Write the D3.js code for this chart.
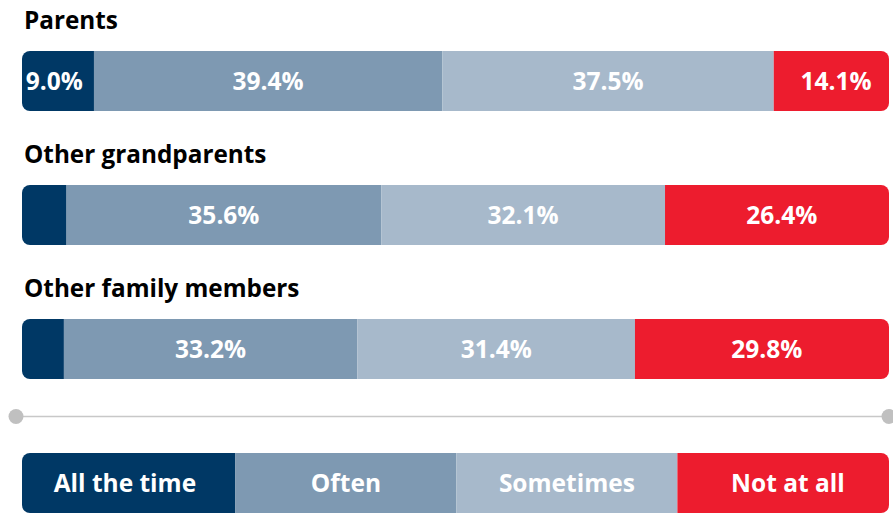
<!DOCTYPE html>
<html>
<head>
<meta charset="utf-8">
<script src="https://cdn.jsdelivr.net/npm/d3@7"></script>
<style>
  html, body { margin: 0; padding: 0; background: #ffffff; }
  svg { display: block; }
  text { font-family: "Open Sans", Lato, sans-serif; font-weight: bold; }
</style>
</head>
<body>
<svg id="chart" width="893" height="514"></svg>
<script>
// ---- data ----
const categories = ["Parents", "Other grandparents", "Other family members"];
const seriesNames = ["All the time", "Often", "Sometimes", "Not at all"];
const allTheTime = [9.0, 5.9, 5.6];
const often = [39.4, 35.6, 33.2];
const sometimes = [37.5, 32.1, 31.4];
const notAtAll = [14.1, 26.4, 29.8];
const legendShares = [25, 25, 25, 25];
const colors = ["#003865", "#7e99b2", "#a7b9cb", "#ed1c2e"];

// ---- build rows ----
const seriesArrays = [allTheTime, often, sometimes, notAtAll];
const rows = categories.map((c, i) => {
  const r = { category: c };
  seriesNames.forEach((s, k) => r[s] = seriesArrays[k][i]);
  return r;
});
const legendRow = { category: "legend" };
seriesNames.forEach((s, k) => legendRow[s] = legendShares[k]);

const stack = d3.stack().keys(seriesNames);
const stacked = stack(rows);
const legendStacked = stack([legendRow]);

const svg = d3.select("#chart");

const clipLeft = 22, clipRight = 889;
const x = d3.scaleLinear().domain([0, 100]).range([14.4, 898.4]);
const y = d3.scaleBand().domain(categories).range([51, 379]).paddingInner(74 / 134).paddingOuter(0);
const color = d3.scaleOrdinal().domain(seriesNames).range(colors);
const radius = 8;

const defs = svg.append("defs");
function clipFor(id, top, h) {
  defs.append("clipPath").attr("id", id)
    .append("rect")
    .attr("x", clipLeft).attr("y", top)
    .attr("width", clipRight - clipLeft).attr("height", h)
    .attr("rx", radius).attr("ry", radius);
}

// ---- bars ----
categories.forEach((c, i) => {
  const top = y(c);
  const id = "clip" + i;
  clipFor(id, top, y.bandwidth());

  // title
  svg.append("text")
    .attr("x", 24)
    .attr("y", top - 22)
    .attr("font-size", 24.3)
    .attr("fill", "#000")
    .text(c);

  const g = svg.append("g").attr("clip-path", `url(#${id})`);
  stacked.forEach(layer => {
    const d = layer[i];
    g.append("rect")
      .attr("x", x(d[0]))
      .attr("y", top)
      .attr("width", x(d[1]) - x(d[0]))
      .attr("height", y.bandwidth())
      .attr("fill", color(layer.key));
  });
  stacked.forEach(layer => {
    const d = layer[i];
    const v = d[1] - d[0];
    if (v < 8) return;
    svg.append("text")
      .attr("x", (x(d[0]) + x(d[1])) / 2)
      .attr("y", top + y.bandwidth() / 2)
      .attr("dy", "0.36em")
      .attr("text-anchor", "middle")
      .attr("font-size", 24.5)
      .attr("fill", "#ffffff")
      .text(v.toFixed(1) + "%");
  });
});

// ---- divider line ----
const lineY = 416.5;
svg.append("line")
  .attr("x1", 16).attr("x2", 889)
  .attr("y1", lineY).attr("y2", lineY)
  .attr("stroke", "#c8c8c8").attr("stroke-width", 1.5);
[16, 889].forEach(cx => {
  svg.append("circle").attr("cx", cx).attr("cy", lineY).attr("r", 7.5).attr("fill", "#c0c0c0");
});

// ---- legend ----
const legTop = 453, legH = 60;
clipFor("clipLegend", legTop, legH);
const lg = svg.append("g").attr("clip-path", "url(#clipLegend)");
legendStacked.forEach(layer => {
  const d = layer[0];
  lg.append("rect")
    .attr("x", x(d[0])).attr("y", legTop)
    .attr("width", x(d[1]) - x(d[0])).attr("height", legH)
    .attr("fill", color(layer.key));
});
legendStacked.forEach(layer => {
  const d = layer[0];
  svg.append("text")
    .attr("x", (x(d[0]) + x(d[1])) / 2)
    .attr("y", legTop + legH / 2)
    .attr("dy", "0.36em")
    .attr("text-anchor", "middle")
    .attr("font-size", 24.5)
    .attr("fill", "#ffffff")
    .text(layer.key);
});
</script>
</body>
</html>
